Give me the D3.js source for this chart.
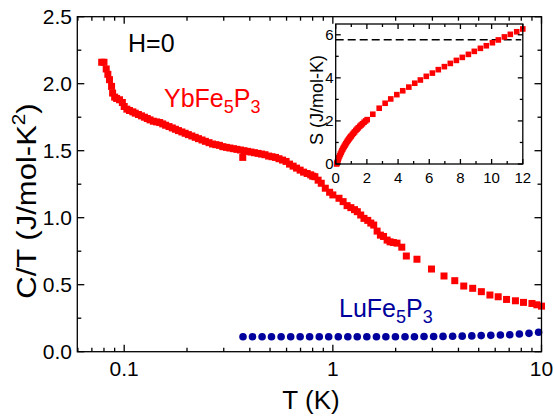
<!DOCTYPE html>
<html><head><meta charset="utf-8">
<script src="https://cdn.jsdelivr.net/npm/d3@7"></script>
<style>body{margin:0;background:#fff}svg{display:block}text{font-family:"Liberation Sans",Arial,sans-serif}</style>
</head><body>
<svg id="c" width="554" height="416"></svg>
<script>
// ---- data ----
const ybT = [0.078,0.080,0.082,0.0835,0.085,0.087,0.088,0.090,0.092,0.095,0.098,0.100,0.103,0.106,0.110,0.113,0.117,0.121,0.125,0.129,0.133,0.138,0.143,0.148,0.153,0.158,0.164,0.170,0.176,0.182,0.189,0.196,0.203,0.211,0.219,0.227,0.236,0.245,0.255,0.265,0.275,0.286,0.297,0.309,0.321,0.334,0.347,0.361,0.370,0.375,0.390,0.405,0.421,0.438,0.455,0.473,0.492,0.511,0.531,0.552,0.574,0.597,0.62,0.645,0.67,0.697,0.724,0.753,0.783,0.80,0.82,0.85,0.88,0.92,0.965,1.0,1.07,1.12,1.17,1.22,1.27,1.31,1.36,1.41,1.47,1.52,1.57,1.63,1.69,1.75,1.82,1.88,1.95,2.03,2.14,2.25,2.53,2.97,3.41,3.84,4.24,4.68,5.15,5.66,6.2,6.8,7.5,8.2,9.0,9.5,10.0];
const ybCT = [2.16,2.16,2.11,2.07,2.03,1.98,1.93,1.90,1.89,1.88,1.86,1.83,1.81,1.80,1.79,1.78,1.77,1.76,1.75,1.74,1.73,1.72,1.715,1.71,1.70,1.69,1.68,1.67,1.66,1.65,1.64,1.63,1.62,1.61,1.60,1.59,1.58,1.57,1.56,1.55,1.545,1.54,1.53,1.525,1.52,1.515,1.51,1.505,1.45,1.50,1.495,1.49,1.485,1.48,1.475,1.47,1.46,1.455,1.45,1.44,1.43,1.42,1.40,1.385,1.37,1.355,1.34,1.33,1.32,1.31,1.306,1.28,1.257,1.22,1.19,1.17,1.145,1.12,1.09,1.075,1.06,1.045,1.02,0.995,0.98,0.96,0.945,0.90,0.87,0.86,0.833,0.82,0.815,0.81,0.78,0.714,0.69,0.617,0.565,0.53,0.49,0.473,0.448,0.423,0.41,0.39,0.38,0.368,0.36,0.35,0.34];
const luT = [0.371,0.412,0.458,0.508,0.565,0.628,0.697,0.774,0.861,0.955,1.062,1.180,1.309,1.455,1.618,1.795,1.995,2.218,2.460,2.735,3.041,3.373,3.750,4.169,4.634,5.140,5.715,6.353,7.047,7.834,8.710,9.683];
const luCT = [0.112,0.112,0.112,0.112,0.112,0.112,0.112,0.112,0.112,0.112,0.112,0.112,0.112,0.112,0.112,0.112,0.112,0.112,0.112,0.113,0.113,0.114,0.115,0.116,0.118,0.120,0.122,0.125,0.127,0.132,0.137,0.145];
const insT = [0.06,0.08,0.10,0.13,0.16,0.20,0.25,0.30,0.35,0.40,0.45,0.50,0.55,0.60,0.65,0.70,0.75,0.80,0.85,0.90,0.95,1.00,1.07,1.14,1.21,1.29,1.37,1.45,1.54,1.63,1.72,1.82,1.92,2.02,2.38,2.79,3.17,3.53,3.92,4.30,4.69,5.07,5.43,5.81,6.20,6.58,6.97,7.35,7.74,8.12,8.51,8.89,9.28,9.66,10.05,10.43,10.82,11.20,11.61,12.0];
const insS = [0.0,0.04,0.08,0.15,0.21,0.29,0.38,0.46,0.54,0.62,0.69,0.76,0.82,0.88,0.94,1.00,1.06,1.11,1.16,1.21,1.26,1.30,1.37,1.43,1.49,1.56,1.62,1.68,1.75,1.81,1.87,1.94,2.00,2.06,2.31,2.59,2.82,3.02,3.22,3.40,3.57,3.75,3.90,4.07,4.22,4.38,4.52,4.67,4.81,4.95,5.09,5.23,5.37,5.49,5.63,5.76,5.90,6.02,6.14,6.27];
const xMajor = [0.1, 1, 10];
const xMajorLabels = ["0.1", "1", "10"];
const yMajor = [0, 0.5, 1.0, 1.5, 2.0, 2.5];
const yMajorLabels = ["0.0","0.5","1.0","1.5","2.0","2.5"];
const insXMajor = [0,2,4,6,8,10,12];
const insYMajor = [0,2,4,6];
const rLn2 = 5.763;

// ---- layout ----
const svg = d3.select("#c");
const M = {l:77.3, r:541.5, t:16.7, b:351.7};
const x = d3.scaleLog().domain([0.0596, 10]).range([M.l, M.r]);
const y = d3.scaleLinear().domain([0, 2.5]).range([M.b, M.t]);
const red = "#ff0000", blue = "#00009c";

// points
svg.append("g").selectAll("rect").data(ybT).join("rect")
  .attr("x", (d,i)=>x(d)-3.5).attr("y",(d,i)=>y(ybCT[i])-3.5)
  .attr("width",7).attr("height",7).attr("fill",red);
svg.append("g").selectAll("circle").data(luT).join("circle")
  .attr("cx", d=>x(d)).attr("cy",(d,i)=>y(luCT[i])).attr("r",3.8).attr("fill",blue);

// axes
const minorX = [];
[0.01,0.1,1].forEach(b=>{for(let k=2;k<=9;k++){const v=b*k; if(v>=0.0596&&v<=10) minorX.push(v);}});
const minorY = d3.range(0.25, 2.5, 0.5);
const g = svg.append("g").attr("stroke","#000").attr("stroke-width",1.3);
g.append("rect").attr("x",M.l).attr("y",M.t).attr("width",M.r-M.l).attr("height",M.b-M.t).attr("fill","none");
function tickX(vals, len){ vals.forEach(v=>{ const px=x(v);
  g.append("line").attr("x1",px).attr("x2",px).attr("y1",M.b).attr("y2",M.b-len);
  g.append("line").attr("x1",px).attr("x2",px).attr("y1",M.t).attr("y2",M.t+len);});}
function tickY(vals, len){ vals.forEach(v=>{ const py=y(v);
  g.append("line").attr("x1",M.l).attr("x2",M.l+len).attr("y1",py).attr("y2",py);
  g.append("line").attr("x1",M.r).attr("x2",M.r-len).attr("y1",py).attr("y2",py);});}
tickX(xMajor,7); tickX(minorX,4); tickY(yMajor,7); tickY(minorY,4);

svg.append("g").selectAll("text").data(xMajor).join("text")
  .attr("x",d=>x(d)).attr("y",376).attr("text-anchor","middle").attr("font-size",21).text((d,i)=>xMajorLabels[i]);
svg.append("g").selectAll("text").data(yMajor).join("text")
  .attr("x",72).attr("y",d=>y(d)+7.5).attr("text-anchor","end").attr("font-size",21).text((d,i)=>yMajorLabels[i]);

svg.append("text").attr("x",311).attr("y",409).attr("text-anchor","middle").attr("font-size",26).text("T (K)");
const yt = svg.append("text").attr("transform","translate(36,201) rotate(-90) scale(1.15,1)").attr("text-anchor","middle").attr("font-size",27);
yt.append("tspan").text("C/T (J/mol-K");
yt.append("tspan").attr("font-size",18).attr("dy",-11).text("2");
yt.append("tspan").attr("dy",11).text(")");

// labels
svg.append("text").attr("x",128).attr("y",52).attr("font-size",25).text("H=0");
function chem(xp, yp, col, a, b){
  const t = svg.append("text").attr("x",xp).attr("y",yp).attr("font-size",25).attr("fill",col);
  t.append("tspan").text(a); t.append("tspan").attr("font-size",18).attr("dy",6).text("5");
  t.append("tspan").attr("dy",-6).text(b); t.append("tspan").attr("font-size",18).attr("dy",6).text("3");
}
chem(164,106.7,red,"YbFe","P");
chem(339,316.7,blue,"LuFe","P");

// ---- inset ----
const I = {l:335.7, r:522.8, t:24, b:164};
const ix = d3.scaleLinear().domain([0,12]).range([I.l, I.r]);
const iy = d3.scaleLinear().domain([0,6.5]).range([I.b, I.t]);
svg.append("rect").attr("x",I.l).attr("y",I.t).attr("width",I.r-I.l).attr("height",I.b-I.t).attr("fill","#fff");
svg.append("line").attr("x1",ix(0)).attr("x2",ix(11.9)).attr("y1",iy(rLn2)).attr("y2",iy(rLn2))
  .attr("stroke","#000").attr("stroke-width",1.5).attr("stroke-dasharray","8,4");
svg.append("g").selectAll("rect").data(insT).join("rect")
  .attr("x",d=>ix(d)-2.8).attr("y",(d,i)=>iy(insS[i])-2.8).attr("width",5.6).attr("height",5.6).attr("fill",red);
const ig = svg.append("g").attr("stroke","#000").attr("stroke-width",1.3);
ig.append("rect").attr("x",I.l).attr("y",I.t).attr("width",I.r-I.l).attr("height",I.b-I.t).attr("fill","none");
d3.range(0,12.5,1).forEach(v=>{ const L = v%2===0?5:3; const px=ix(v);
  ig.append("line").attr("x1",px).attr("x2",px).attr("y1",I.b).attr("y2",I.b-L);
  ig.append("line").attr("x1",px).attr("x2",px).attr("y1",I.t).attr("y2",I.t+L);});
d3.range(0,6.5,1).forEach(v=>{ const L = v%2===0?5:3; const py=iy(v);
  ig.append("line").attr("x1",I.l).attr("x2",I.l+L).attr("y1",py).attr("y2",py);
  ig.append("line").attr("x1",I.r).attr("x2",I.r-L).attr("y1",py).attr("y2",py);});
svg.append("g").selectAll("text").data(insXMajor).join("text")
  .attr("x",d=>ix(d)).attr("y",183.3).attr("text-anchor","middle").attr("font-size",15).text(d=>d);
svg.append("g").selectAll("text").data(insYMajor).join("text")
  .attr("x",333.5).attr("y",d=>iy(d)+5.3).attr("text-anchor","end").attr("font-size",15).text(d=>d);
svg.append("text").attr("transform","translate(323,100) rotate(-90)").attr("text-anchor","middle").attr("font-size",18).text("S (J/mol-K)");
</script>
</body></html>
